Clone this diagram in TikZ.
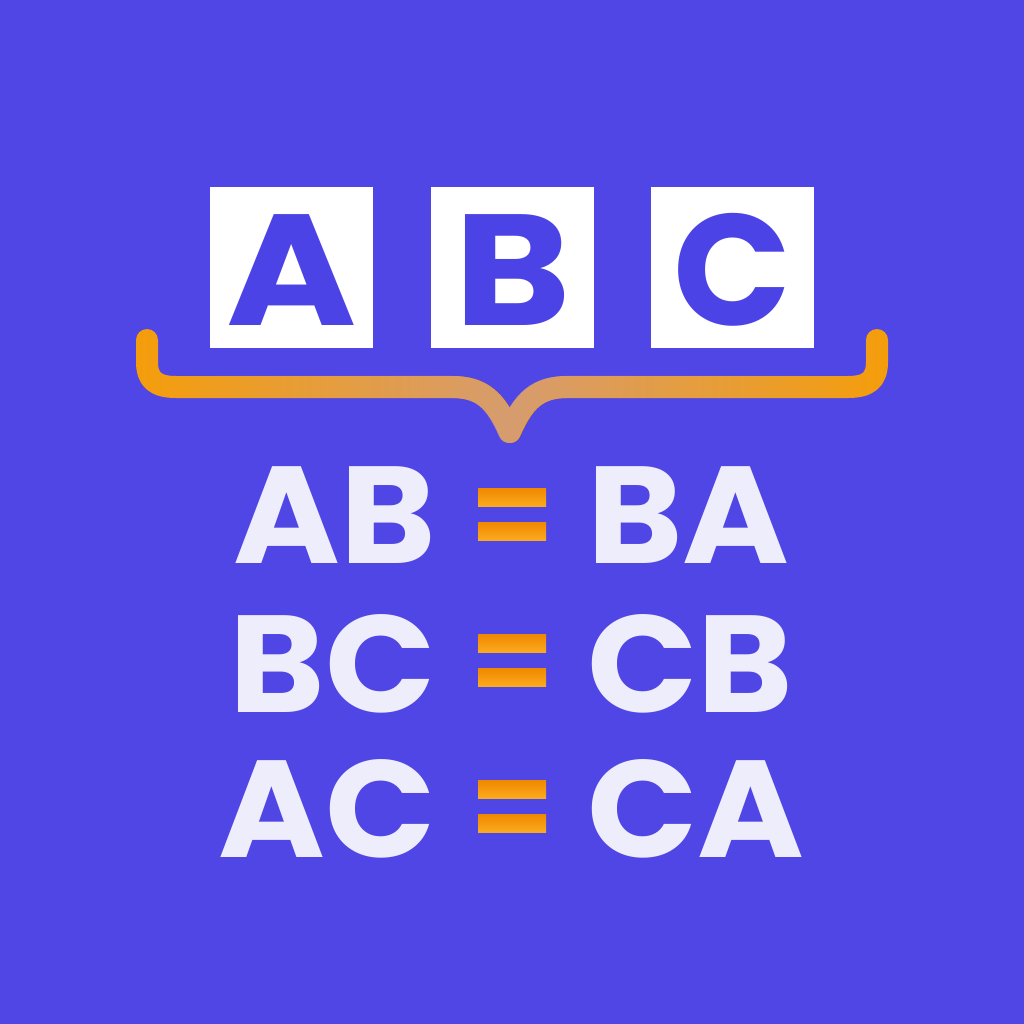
\documentclass[tikz,border=0pt]{standalone}
\usepackage{fontspec}
\setmainfont{Poppins}
\newfontfamily\boxfont{Poppins}[FakeStretch=1.12]
\newfontfamily\cboxfont{Poppins}[FakeStretch=0.98]
\newfontfamily\wordfont{Poppins}[FakeStretch=1.05]
\usetikzlibrary{fadings}
\definecolor{bg}{HTML}{4F46E5}
\definecolor{ink}{HTML}{4C43E6}
\definecolor{orng}{HTML}{F59E0B}
\definecolor{orngdark}{HTML}{F08800}
\definecolor{orngl}{HTML}{FBAA1E}
\definecolor{peach}{HTML}{CF9C88}
\definecolor{pale}{HTML}{EEEDFC}
\tikzfading[name=bracefade, left color=transparent!100, right color=transparent!100, middle color=transparent!20]
\tikzset{
  letterbox/.style={fill=white, minimum width=163pt, minimum height=161pt, inner sep=0pt},
  boxletter/.style={text=ink, font=\boxfont\bfseries\fontsize{158}{158}\selectfont, inner sep=0pt},
  word/.style={text=pale, font=\wordfont\bfseries\fontsize{138}{138}\selectfont, inner sep=0pt},
  eqbar/.style={top color=orngdark, bottom color=orngl, minimum width=68pt, minimum height=18pt, inner sep=0pt},
  bracepath/.style={line width=22pt, line cap=round, line join=round}
}
\begin{document}
\begin{tikzpicture}[x=1pt,y=-1pt]
\fill[bg] (0,0) rectangle (1024,1024);
\useasboundingbox (0,0) rectangle (1024,1024);
% boxes
\node[letterbox] (boxA) at (291.5,267.5) {};
\node[letterbox] (boxB) at (512,267.5) {};
\node[letterbox] (boxC) at (732,267.5) {};
\node[boxletter, anchor=base] (la) at (292,325) {A};
\node[boxletter, anchor=base] (lb) at (513,325) {B};
\node[boxletter, font=\cboxfont\bfseries\fontsize{158}{158}\selectfont, anchor=base] (lc) at (732,325) {C};
% brace
\coordinate (bl) at (147,340);
\coordinate (br) at (877,340);
\coordinate (tip) at (510,432);
\path[bracepath, draw=orng] (bl) -- (147,362) .. controls (147,380) and (156,387) .. (176,387) -- (452,387)
   .. controls (482,387) and (496,400) .. (tip)
   .. controls (524,400) and (538,387) .. (568,387) -- (848,387)
   .. controls (868,387) and (877,380) .. (877,362) -- (br);
\path[bracepath, draw=peach, path fading=bracefade, fit fading=true] (bl) -- (147,362) .. controls (147,380) and (156,387) .. (176,387) -- (452,387)
   .. controls (482,387) and (496,400) .. (tip)
   .. controls (524,400) and (538,387) .. (568,387) -- (848,387)
   .. controls (868,387) and (877,380) .. (877,362) -- (br);
% rows
\foreach \r/\y/\lt/\rt/\eqy in {1/563/AB/BA/514, 2/712/BC/CB/660, 3/857/AC/CA/806}{
  \node[word, anchor=base east] (l\r) at (436,\y) {\lt};
  \node[word, anchor=base west] (r\r) at (587,\y) {\rt};
  \node[eqbar] (eqt\r) at (512,\eqy-17) {};
  \node[eqbar] (eqb\r) at (512,\eqy+17) {};
}
\end{tikzpicture}
\end{document}
